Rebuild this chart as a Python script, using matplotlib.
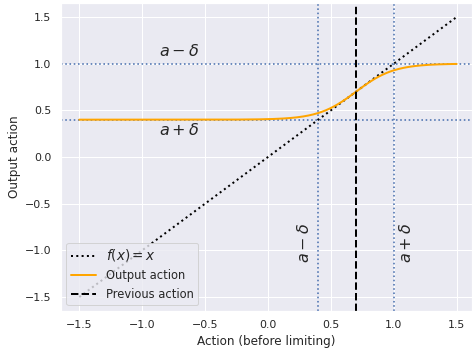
import numpy as np
import matplotlib
matplotlib.use("Agg")
import matplotlib.pyplot as plt
import seaborn as sns

sns.set_theme()

prev_action = 0.7
delta = 0.3
x_range = [-1.5, 1.5]
n_points = 301

x = np.linspace(x_range[0], x_range[1], n_points)
identity = x
output = prev_action + delta * np.tanh((x - prev_action) / delta)

DPI = 72
fig = plt.figure(figsize=(472 / DPI, 355 / DPI), dpi=DPI)
ax = fig.add_axes([60.7 / 472, (355 - 311) / 355, (472 - 60.7) / 472, 308 / 355])

blue = "#4C72B0"
ax.axhline(prev_action + delta, color=blue, ls=":", lw=1.6)
ax.axhline(prev_action - delta, color=blue, ls=":", lw=1.6)
ax.axvline(prev_action - delta, color=blue, ls=":", lw=1.6)
ax.axvline(prev_action + delta, color=blue, ls=":", lw=1.6)

ax.plot(x, identity, color="black", ls=":", lw=2, label="$f(x) = x$")
ax.plot(x, output, color="orange", lw=2, label="Output action")
ax.axvline(prev_action, color="black", ls="--", lw=2, label="Previous action")

ax.text(-0.704, 1.14, r"$a-\delta$", ha="center", va="center", fontsize=16)
ax.text(-0.704, 0.29, r"$a+\delta$", ha="center", va="center", fontsize=16)
ax.text(0.284, -0.915, r"$a-\delta$", ha="center", va="center", rotation=90, fontsize=16)
ax.text(1.097, -0.915, r"$a+\delta$", ha="center", va="center", rotation=90, fontsize=16)

ax.set_xlim(-1.648, 1.622)
ax.set_ylim(-1.65, 1.65)
ax.set_xticks([-1.5, -1.0, -0.5, 0.0, 0.5, 1.0, 1.5])
ax.set_yticks([-1.5, -1.0, -0.5, 0.0, 0.5, 1.0, 1.5])
ax.set_xlabel("Action (before limiting)")
ax.set_ylabel("Output action")
leg = ax.legend(loc="lower left", handlelength=2.2, fontsize=11.5)
leg.get_texts()[0].set_fontsize(13.5)

fig.savefig("out.png", dpi=DPI)
